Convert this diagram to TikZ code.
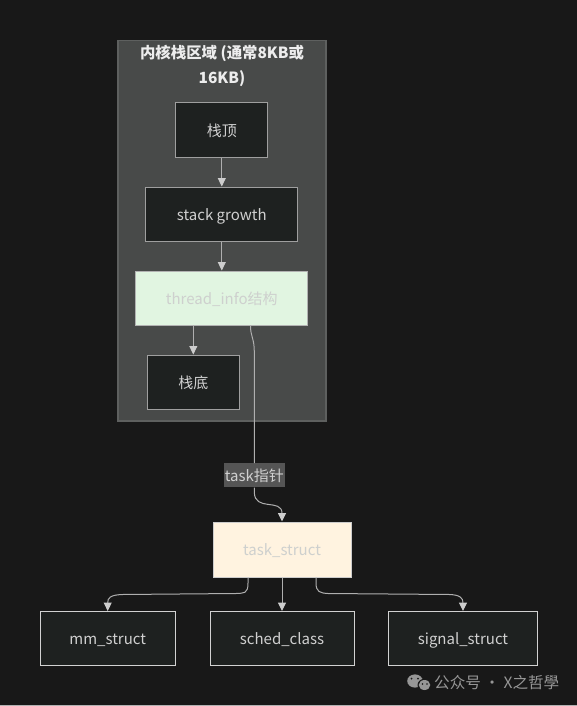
\documentclass[tikz,border=0pt]{standalone}
\usepackage{xcolor}
\usepackage{fontspec}
\setmainfont{Noto Sans CJK SC}
\usetikzlibrary{arrows.meta,calc}
\definecolor{inkbg}{RGB}{24,24,24}
\definecolor{clusterfill}{RGB}{72,74,73}
\definecolor{clusterline}{RGB}{94,96,95}
\definecolor{boxfill}{RGB}{30,33,32}
\definecolor{boxtext}{RGB}{208,208,208}
\definecolor{edgeline}{RGB}{175,175,175}
\definecolor{edgetip}{RGB}{205,205,205}
\definecolor{greenfill}{RGB}{225,245,225}
\definecolor{orangefill}{RGB}{255,243,224}
\definecolor{palettext}{RGB}{206,208,206}
\definecolor{labelfill}{RGB}{85,85,85}
\definecolor{markgray}{RGB}{150,150,150}
\tikzset{
  boxnode/.style={draw=#1,line width=1pt,fill=boxfill,text=boxtext,inner sep=0pt,text height=13pt,text depth=1pt,font=\fontsize{15}{16}\selectfont},
  boxnode/.default={gray!75},
  palenode/.style={draw=#1,line width=1pt,inner sep=0pt,text=palettext,fill=greenfill,text height=13pt,text depth=1pt,font=\fontsize{15}{16}\selectfont},
  flow/.style={edgeline,line width=1pt,-{Triangle[length=8.5pt,width=8pt,color=edgetip]}},
  wire/.style={edgeline,line width=1pt}
}
\begin{document}
\begin{tikzpicture}[x=1pt,y=-1pt]
  \useasboundingbox (0,0) rectangle (577,706);
  \fill[inkbg] (0,0) rectangle (577,706);
  \fill[gray!60] (0,705) rectangle (577,706);
  % stack region
  \draw[fill=clusterfill,draw=clusterline,line width=1.2pt] (118,40.5) rectangle (326,421);
  \node[font=\fontsize{15.4}{25}\selectfont\bfseries,text=white!93!black,align=center] (regiontitle) at (222,65.5) {内核栈区域 (通常8KB或\\16KB)};
  \node[boxnode,minimum width=92pt,minimum height=54pt] (stacktop) at (221.8,130) {栈顶};
  \node[boxnode,minimum width=152pt,minimum height=54pt] (growth) at (221.8,214) {stack growth};
  \node[palenode={gray!60!white},minimum width=172pt,minimum height=54pt] (threadinfo) at (221.8,298) {thread\_info结构};
  \node[boxnode,minimum width=92pt,minimum height=54pt] (stackbase) at (193.3,382) {栈底};
  % task side
  \node[palenode={gray!40!white},fill=orangefill,minimum width=138pt,minimum height=55pt] (task) at (282,549.5) {task\_struct};
  \node[boxnode={gray!35!white},minimum width=135pt,minimum height=54pt] (mm) at (107.7,638.5) {mm\_struct};
  \node[boxnode={gray!35!white},minimum width=144pt,minimum height=54pt] (sched) at (282,638.5) {sched\_class};
  \node[boxnode={gray!35!white},minimum width=149pt,minimum height=54pt] (signal) at (463,638.5) {signal\_struct};
  \node[fill=labelfill,text=boxtext,inner sep=0pt,minimum width=61pt,minimum height=24pt,text height=13pt,text depth=1pt,font=\fontsize{15}{16}\selectfont] (taskptr) at (254.3,475.3) {task指针};
  % connectors
  \draw[flow] (stacktop) -- (growth);
  \draw[flow] (growth) -- (threadinfo);
  \draw[flow] (threadinfo.south -| stackbase.north) -- (stackbase);
  \draw[wire] ($(threadinfo.south)+(28.7,0)$) .. controls (250.5,337) and (254.3,338) .. (254.3,352) -- (taskptr.north);
  \draw[flow] (taskptr.south) -- (254.3,492) .. controls (254.3,512) and (282,498) .. (task.north);
  \draw[flow] ($(task.south)+(-34,0)$) -- (248,583) .. controls (248,594) and (244,593) .. (236,593.5) -- (122,594.5) .. controls (110,595) and (107.7,598) .. (mm.north);
  \draw[flow] (task.south) -- (sched.north);
  \draw[flow] ($(task.south)+(34,0)$) -- (316,583) .. controls (316,592) and (320,593) .. (328,593.5) -- (450,594.5) .. controls (460,595) and (463,598) .. (signal.north);
  % watermark
  \fill[markgray] (415,681) ellipse (7.8pt and 6.6pt);
  \fill[inkbg] (424.5,685) ellipse (7pt and 6.2pt);
  \fill[markgray] (424.5,685) ellipse (5.8pt and 5pt);
  \fill[inkbg] (411.5,678.5) circle (1pt) (418,678.5) circle (1pt) (422.5,684) circle (0.8pt) (427,684) circle (0.8pt);
  \node[anchor=west,text=markgray,inner sep=0pt,font=\fontsize{15.6}{17}\selectfont] (mark) at (434,683) {公众号 · X之哲學};
\end{tikzpicture}
\end{document}
